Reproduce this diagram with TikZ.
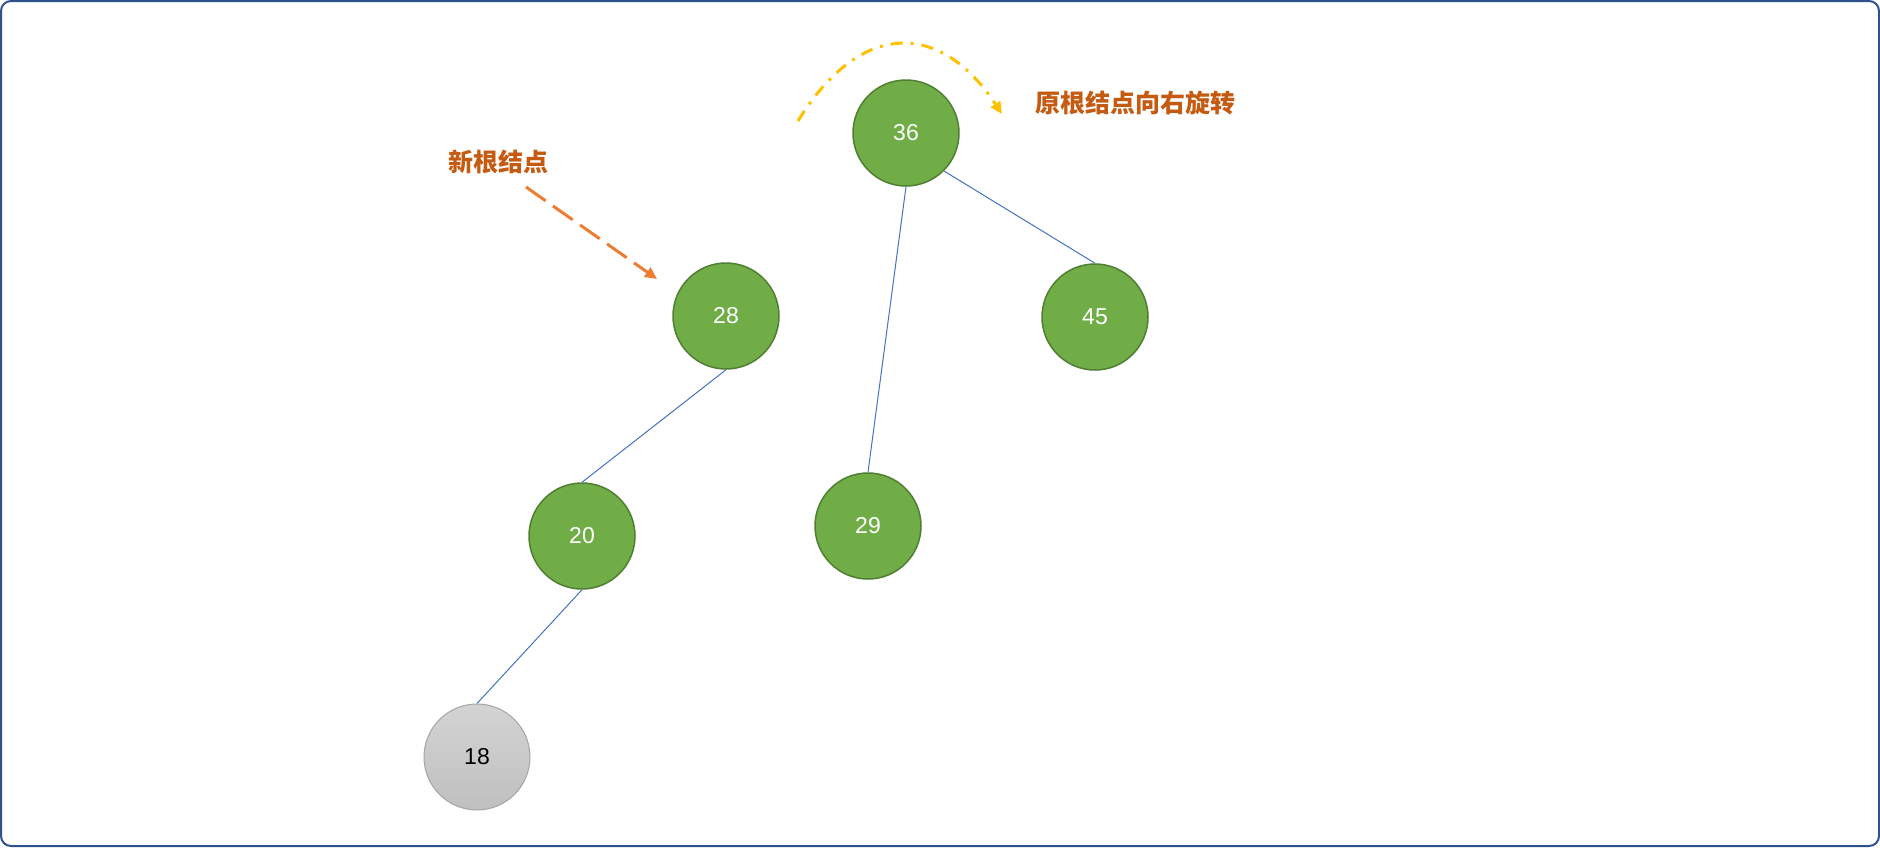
\documentclass[tikz,border=0pt]{standalone}
\usepackage{fontspec}
\setmainfont{Liberation Sans}
\newfontfamily\cjk{Noto Sans CJK SC}
\usetikzlibrary{arrows.meta}
\definecolor{nodegreen}{HTML}{70AD47}
\definecolor{nodeborder}{HTML}{507E32}
\definecolor{edgeblue}{HTML}{4472C4}
\definecolor{frameblue}{HTML}{2F528F}
\definecolor{labelorange}{HTML}{C55A11}
\definecolor{arroworange}{HTML}{ED7D31}
\definecolor{arrowyellow}{HTML}{FFC000}
\definecolor{grayborder}{HTML}{A5A5A5}
\tikzset{
  treenode/.style={circle, inner sep=0pt, minimum size=106pt, fill=nodegreen, draw=nodeborder, line width=1.5pt, text=white, font=\fontsize{23}{27}\selectfont},
  graynode/.style={circle, inner sep=0pt, minimum size=106pt, top color=black!17, bottom color=black!25, draw=grayborder, line width=1pt, text=black, font=\fontsize{23}{27}\selectfont},
  treeedge/.style={draw=edgeblue, line width=1pt},
  labeltext/.style={text=labelorange, font=\cjk\bfseries\fontsize{25}{30}\selectfont, inner sep=0pt},
}
\begin{document}
\begin{tikzpicture}[x=1pt,y=-1pt]
\useasboundingbox (0,0) rectangle (1880,847);
\draw[frameblue, line width=2pt, rounded corners=10pt] (1,1) rectangle (1879,846);
\node[treenode] (n36) at (906,133) {36};
\node[treenode] (n28) at (726,316) {28};
\node[treenode] (n45) at (1095,317) {45};
\node[treenode] (n20) at (582,536) {20};
\node[treenode] (n29) at (868,526) {29};
\node[graynode] (n18) at (477,757) {18};
\draw[treeedge] (n36.south) -- (n29.north);
\draw[treeedge] (n36.-45) -- (n45.north);
\draw[treeedge] (n28.south) -- (n20.north);
\draw[treeedge] (n20.south) -- (n18.north);
\node[labeltext] (lnew) at (498,162) {新根结点};
\node[labeltext] (lrot) at (1135,103) {原根结点向右旋转};
\coordinate (a1) at (526,187);
\coordinate (a2) at (657,279);
\draw[arroworange, line width=3pt, dash pattern=on 24pt off 9pt, -{Triangle[length=12pt,width=11pt]}] (a1) -- (a2);
\coordinate (b1) at (798,121);
\coordinate (b2) at (1002,114);
\draw[arrowyellow, line width=3pt, dash pattern=on 12pt off 8pt on 3pt off 8pt, -{Triangle[length=12pt,width=11pt]}] (b1) .. controls (860,20) and (940,20) .. (b2);
\end{tikzpicture}
\end{document}
